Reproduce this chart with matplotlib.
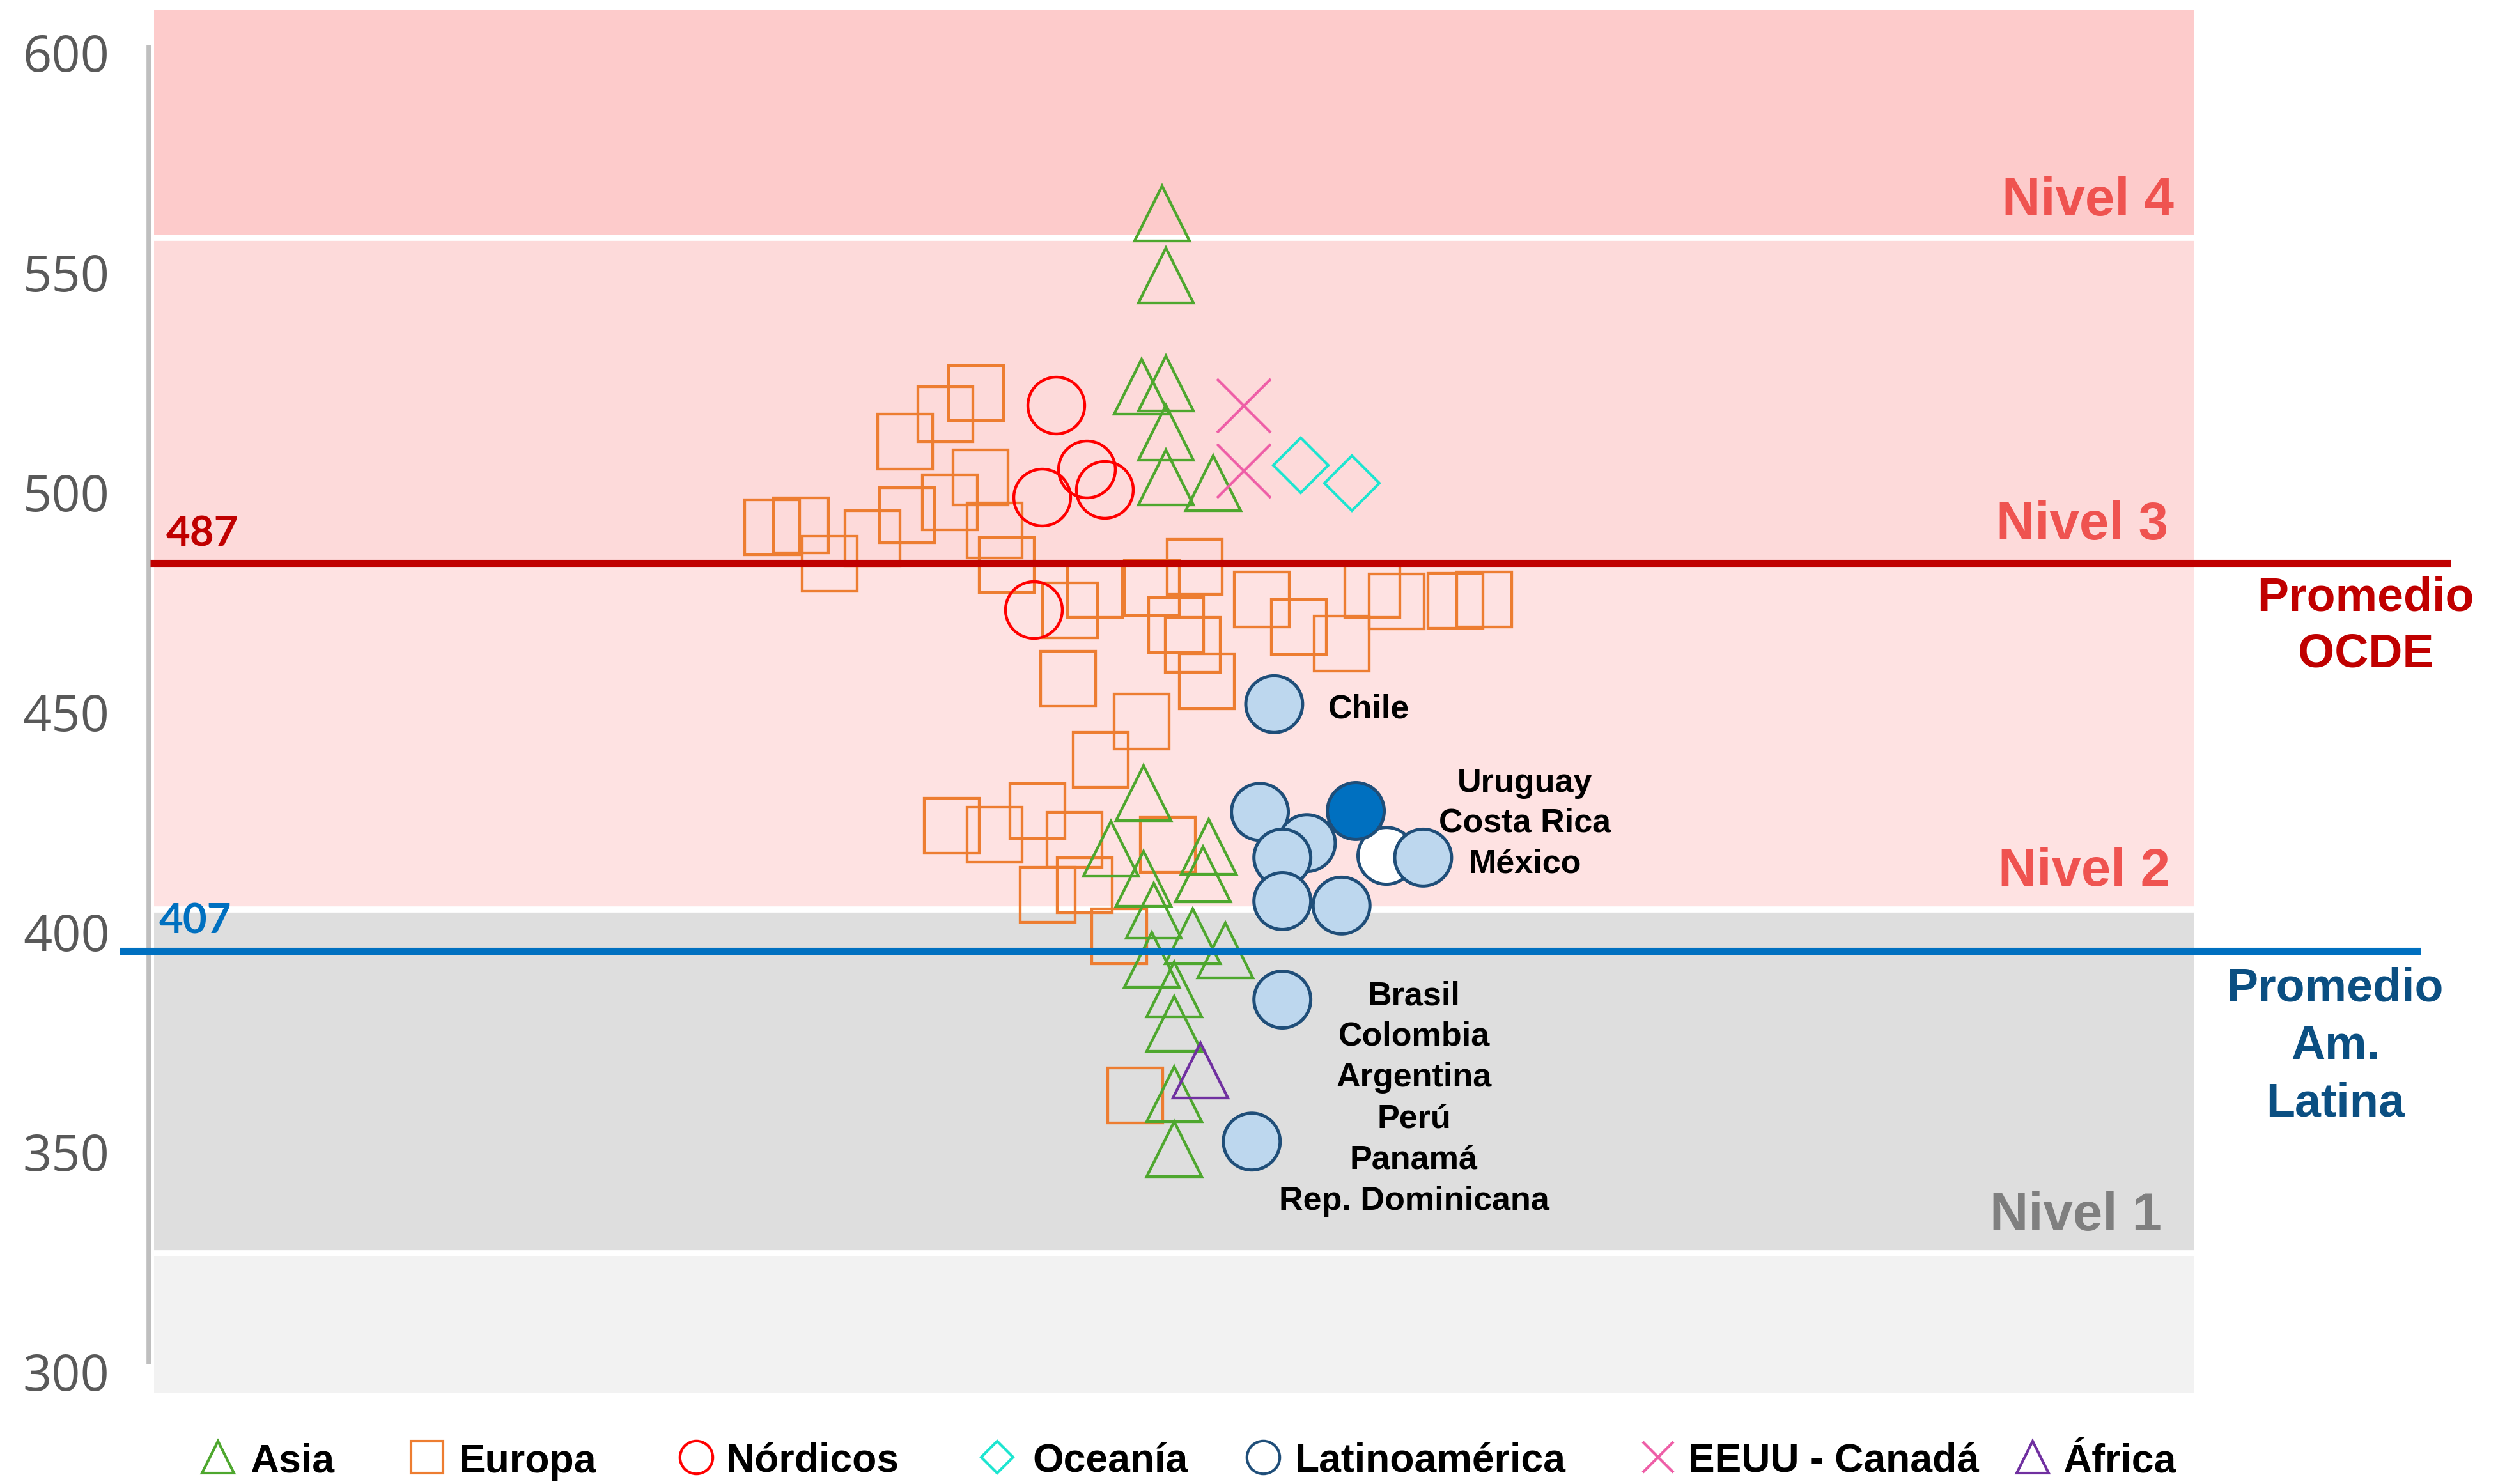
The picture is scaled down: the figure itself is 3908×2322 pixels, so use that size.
import matplotlib
matplotlib.use('Agg')
import matplotlib.pyplot as plt

# ---- datos: x = posición horizontal (sin escala), y = puntaje ----
asia_x = [49.4, 49.6, 48.4, 49.6, 49.6, 49.6, 51.9, 48.5, 46.9, 48.5,
          51.7, 51.4, 49.0, 50.9, 52.5, 48.9, 50.0, 50.0, 50.0, 50.0]
asia_y = [563.4, 549.3, 524.0, 524.8, 513.6, 503.4, 502.1, 431.5, 418.9, 412.1,
          419.3, 413.1, 404.8, 399.0, 395.8, 393.6, 386.9, 379.1, 363.1, 350.6]

europa_x = [40.3, 38.8, 36.8, 40.5, 39.0, 36.9, 30.3, 31.7, 35.2, 33.1,
            41.2, 41.8, 44.9, 46.1, 48.9, 51.0, 50.1, 50.9, 51.6, 54.3,
            56.1, 58.2, 59.7, 60.9, 63.8, 65.2, 44.8, 48.4, 46.4, 39.1,
            41.2, 43.3, 45.1, 49.7, 45.6, 43.8, 47.3, 48.1]
europa_y = [522.6, 517.8, 511.5, 503.4, 497.7, 494.8, 492.0, 492.5, 489.6, 483.7,
            491.3, 483.5, 473.1, 477.8, 478.2, 483.0, 469.8, 465.3, 457.0, 475.6,
            469.3, 465.6, 477.8, 475.2, 475.3, 475.6, 457.6, 447.8, 439.1, 424.1,
            422.1, 427.5, 420.9, 419.8, 410.6, 408.4, 399.0, 362.8]

nordicos_x = [44.2, 45.7, 43.5, 46.6, 43.1]
nordicos_y = [519.8, 505.3, 498.9, 500.6, 473.3]

oceania_x = [56.2, 58.7]
oceania_y = [506.1, 502.1]

eeuu_x = [53.4, 53.4]
eeuu_y = [519.7, 504.8]

africa_x = [51.3]
africa_y = [368.4]

latam_x = [54.9, 54.2, 56.5, 55.3, 60.4, 62.2, 58.9, 55.3, 58.2, 55.3, 53.8]
latam_y = [451.8, 427.3, 420.2, 416.9, 417.3, 416.9, 427.5, 407.0, 406.0, 384.6, 352.3]
latam_fill = ['#BDD7EE', '#BDD7EE', '#BDD7EE', '#BDD7EE', 'white', '#BDD7EE',
              '#0070C0', '#BDD7EE', '#BDD7EE', '#BDD7EE', '#BDD7EE']

# niveles (límites) y promedios
nivel_bordes = [295.2, 326.9, 405.1, 483.9, 557.9, 609.8]
nivel_colores = ['#F2F2F2', '#DEDEDE', '#FEE2E2', '#FDDADA', '#FDCBCB']
prom_ocde = 483.9
prom_latam = 395.7
yticks = [300, 350, 400, 450, 500, 550, 600]

leyenda = ['Asia', 'Europa', 'Nórdicos', 'Oceanía', 'Latinoamérica', 'EEUU - Canadá', 'África']

W, H = 3908, 2322
fig = plt.figure(figsize=(W / 100, H / 100), dpi=100)
ax = fig.add_axes([241 / W, 1 - 2179 / H, 3192 / W, 2164 / H])
ax.set_xlim(0, 100)
ax.set_ylim(nivel_bordes[0], nivel_bordes[-1])
ax.patch.set_visible(False)
for s in ax.spines.values():
    s.set_visible(False)

# bandas de nivel
for lo, hi, c in zip(nivel_bordes[:-1], nivel_bordes[1:], nivel_colores):
    ax.axhspan(lo, hi, color=c, lw=0, zorder=0)
for b in [326.9, 405.1, 557.9]:
    ax.axhline(b, color='white', lw=7, zorder=0.5)

# eje y
ax.plot([-0.25, -0.25], [301.8, 601.8], color='#BFBFBF', lw=5.5,
        solid_capstyle='butt', clip_on=False, zorder=1)
ax.set_xticks([])
ax.set_yticks(yticks)
ax.tick_params(axis='y', length=0, pad=50, labelsize=57, labelcolor='#595959')
for t in ax.get_yticklabels():
    t.set_fontfamily('Open Sans')

# series
ax.plot(europa_x, europa_y, ls='none', marker='s', ms=62, mfc='none',
        mec='#ED7D31', mew=3.1, zorder=3)
ax.plot(asia_x, asia_y, ls='none', marker='^', ms=62, mfc='none',
        mec='#4EA72E', mew=3.1, zorder=3)
ax.plot(nordicos_x, nordicos_y, ls='none', marker='o', ms=64, mfc='none',
        mec='#FF0000', mew=3.2, zorder=3)
ax.plot(oceania_x, oceania_y, ls='none', marker='D', ms=44, mfc='none',
        mec='#1DE5D0', mew=3.0, zorder=3)
ax.plot(eeuu_x, eeuu_y, ls='none', marker='x', ms=60, mec='#EE5FA7',
        mew=3.0, zorder=3)
ax.plot(africa_x, africa_y, ls='none', marker='^', ms=62, mfc='none',
        mec='#7030A0', mew=3.1, zorder=3)
ax.scatter(latam_x, latam_y, s=64 ** 2, marker='o', c=latam_fill,
           edgecolors='#1F4E79', linewidths=3.6, zorder=4)

# promedios
ax.plot([-0.19, 112.56], [prom_ocde] * 2, color='#C00000', lw=8,
        solid_capstyle='butt', clip_on=False, zorder=5)
ax.plot([-1.69, 111.09], [prom_latam] * 2, color='#0070C0', lw=8,
        solid_capstyle='butt', clip_on=False, zorder=5)
ax.text(0.6, 487.8, '487', color='#C00000', fontsize=47, fontweight='bold',
        family='Lato', va='baseline', ha='left', zorder=6)
ax.text(0.25, 399.7, '407', color='#0070C0', fontsize=47, fontweight='bold',
        family='Lato', va='baseline', ha='left', zorder=6)

bold = dict(family='Liberation Sans', fontweight='bold', va='baseline')
ax.text(108.4, 473.0, 'Promedio', color='#C00000', fontsize=53, ha='center', **bold)
ax.text(108.4, 460.3, 'OCDE', color='#C00000', fontsize=53, ha='center', **bold)
for yy, s in zip([384.2, 371.1, 358.1], ['Promedio', 'Am.', 'Latina']):
    ax.text(106.9, yy, s, color='#0B4F82', fontsize=53, ha='center', **bold)

# etiquetas de nivel
for yy, xx, s, c in [(563.0, 99.0, 'Nivel 4', '#EF5350'),
                     (489.3, 98.7, 'Nivel 3', '#EF5350'),
                     (410.5, 98.8, 'Nivel 2', '#EF5350'),
                     (332.1, 98.4, 'Nivel 1', '#7F7F7F')]:
    ax.text(xx, yy, s, color=c, fontsize=60, ha='right', zorder=6, **bold)

# países de América Latina
ax.text(57.55, 448.6, 'Chile', fontsize=37.5, ha='left', zorder=6, **bold)
for yy, s in zip([431.8, 422.7, 413.4], ['Uruguay', 'Costa Rica', 'México']):
    ax.text(67.2, yy, s, fontsize=37.5, ha='center', zorder=6, **bold)
for yy, s in zip([383.3, 374.2, 364.8, 355.5, 346.2, 336.8],
                 ['Brasil', 'Colombia', 'Argentina', 'Perú', 'Panamá', 'Rep. Dominicana']):
    ax.text(61.75, yy, s, fontsize=37.5, ha='center', zorder=6, **bold)

# leyenda (coordenadas en píxeles de la figura)
lg = fig.add_axes([0, 0, 1, 1])
lg.set_xlim(0, W)
lg.set_ylim(H, 0)
lg.axis('off')
lg.patch.set_visible(False)
mk_x = [341, 668, 1089, 1560, 1976, 2594, 3180]
tx_x = [391, 718, 1136, 1615, 2026, 2641, 3227]
estilos = [dict(marker='^', mfc='none', mec='#4EA72E', ms=36),
           dict(marker='s', mfc='none', mec='#ED7D31', ms=36),
           dict(marker='o', mfc='none', mec='#FF0000', ms=37),
           dict(marker='D', mfc='none', mec='#1DE5D0', ms=25),
           dict(marker='o', mfc='none', mec='#1F4E79', ms=37),
           dict(marker='x', mec='#EE5FA7', ms=34),
           dict(marker='^', mfc='none', mec='#7030A0', ms=36)]
for mx, tx, name, st in zip(mk_x, tx_x, leyenda, estilos):
    lg.plot([mx], [2280], ls='none', mew=3.0, **st)
    lg.text(tx, 2304, name, fontsize=45, ha='left', **bold)

fig.savefig('out.png', dpi=100)
